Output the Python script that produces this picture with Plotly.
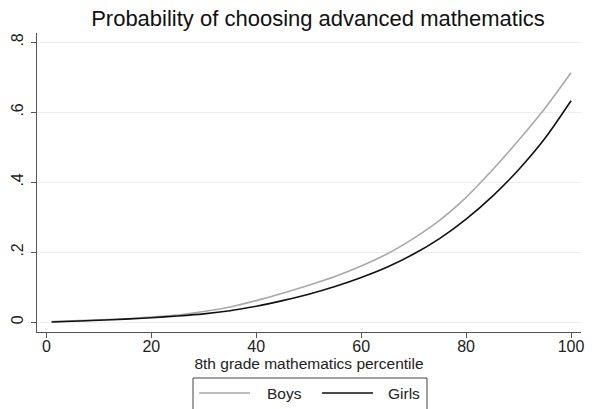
import plotly.graph_objects as go

# Data
percentile = [1, 5, 10, 15, 20, 25, 30, 35, 40, 45, 50, 55, 60, 65, 70, 75, 80, 85, 90, 95, 100]
boys = [0.002, 0.004, 0.007, 0.010, 0.015, 0.021, 0.031, 0.044, 0.062, 0.083, 0.106, 0.131,
        0.161, 0.196, 0.240, 0.292, 0.357, 0.435, 0.520, 0.611, 0.713]
girls = [0.001, 0.003, 0.006, 0.009, 0.013, 0.018, 0.024, 0.033, 0.046, 0.062, 0.080, 0.102,
         0.128, 0.158, 0.195, 0.240, 0.295, 0.360, 0.436, 0.525, 0.633]

series_names = ["Boys", "Girls"]
series_colors = ["#a9a9a9", "#111111"]

y_tickvals = [0, 0.2, 0.4, 0.6, 0.8]
y_ticktext = ["0", ".2", ".4", ".6", ".8"]
x_tickvals = [0, 20, 40, 60, 80, 100]

FONT = "Liberation Sans, Arial, sans-serif"
W, H = 600, 409
L, R, T, B = 37, 19, 33, 77
PW, PH = W - L - R, H - T - B


def px_x(p):
    return (p - L) / PW


def px_y(p):
    return (H - B - p) / PH


fig = go.Figure()
for name, vals, col in zip(series_names, [boys, girls], series_colors):
    fig.add_trace(go.Scatter(x=percentile, y=vals, mode="lines", name=name, showlegend=False,
                             line=dict(color=col, width=1.6, shape="spline", smoothing=0.8)))

# Legend box (Stata style) drawn below the x-axis title
shapes = [dict(type="rect", xref="paper", yref="paper",
               x0=px_x(193), x1=px_x(427), y0=px_y(378), y1=px_y(415),
               line=dict(color="#444444", width=1), fillcolor="rgba(0,0,0,0)", layer="above")]
annotations = []
leg_y = px_y(393)
for name, col, lx0, tx in zip(series_names, series_colors, [199, 322], [265, 386]):
    shapes.append(dict(type="line", xref="paper", yref="paper",
                       x0=px_x(lx0), x1=px_x(lx0 + 51), y0=leg_y, y1=leg_y,
                       line=dict(color=col, width=1.6)))
    annotations.append(dict(text=name, xref="paper", yref="paper", x=px_x(tx), y=leg_y,
                            xanchor="left", yanchor="middle", showarrow=False,
                            font=dict(size=15.5, color="#222222", family=FONT)))

fig.update_layout(
    width=W, height=H,
    margin=dict(l=L, r=R, t=T, b=B),
    paper_bgcolor="white", plot_bgcolor="white",
    font=dict(family=FONT, color="#222222"),
    title=dict(text="Probability of choosing advanced mathematics",
               x=0.53, xanchor="center", y=0.956, yanchor="middle",
               font=dict(size=22, color="#111111", family=FONT)),
    showlegend=False,
    shapes=shapes,
    annotations=annotations,
)

fig.update_xaxes(
    range=[-1.79, 101.9], tickvals=x_tickvals, showgrid=False, zeroline=False,
    showline=True, linecolor="#555555", linewidth=1, automargin=False,
    ticks="outside", ticklen=5, tickcolor="#555555", ticklabelstandoff=-5,
    tickfont=dict(size=16, color="#222222"),
    title=dict(text="8th grade mathematics percentile", font=dict(size=15.5, color="#222222"),
               standoff=0),
)
fig.update_yaxes(
    range=[-0.0277, 0.8266], tickvals=y_tickvals, ticktext=y_ticktext, tickangle=-90,
    showgrid=True, gridcolor="#eeeeee", gridwidth=1, zeroline=False,
    showline=True, linecolor="#555555", linewidth=1, automargin=False,
    ticks="outside", ticklen=5, tickcolor="#555555", ticklabelstandoff=2,
    tickfont=dict(size=16, color="#222222"),
)

fig.write_html("out.html")
